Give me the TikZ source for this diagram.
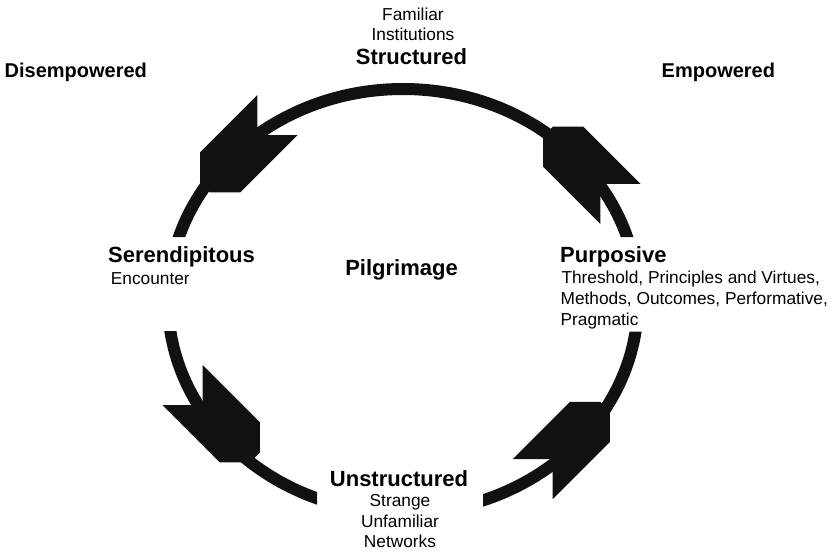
\documentclass[tikz,border=0pt]{standalone}
\usepackage{fontspec}
\setmainfont{Liberation Sans}
\definecolor{inkc}{HTML}{111111}
\begin{document}
\begin{tikzpicture}[x=1pt,y=-1pt,
  ring/.style={draw=inkc, line width=12pt},
  head/.style={font=\fontsize{22}{26}\selectfont\bfseries, inner sep=0pt},
  side/.style={font=\fontsize{20}{24}\selectfont\bfseries, inner sep=0pt},
  note/.style={font=\fontsize{17.3}{20.7}\selectfont, inner sep=0pt},
  chevron/.pic={\fill[inkc] (0,28.3) -- (28.3,0) -- (0,-28.3) -- (81,-28.3)
      -- (102.5,-6.8) -- (102.5,6.8) -- (81,28.3) -- cycle;}]
\useasboundingbox (0,0) rectangle (833,552);

% the cycle ring, broken where the side labels sit
\begin{scope}[even odd rule]
  \clip (0,0) rectangle (833,552)
    (140,237) rectangle (215,331)
    (595,237) rectangle (670,331.7)
    (317,470) rectangle (483,530);
  \draw[ring] (403,301) ellipse [x radius=235, y radius=212];
\end{scope}

% direction heads, running anticlockwise
\pic[rotate=225] (headTL) at (277.5,115) {chevron};
\pic[rotate=135] (headTR) at (620.5,204) {chevron};
\pic[rotate=315] (headBL) at (182.5,385) {chevron};
\pic[rotate=45]  (headBR) at (532.6,479.2) {chevron};

% labels
\node[note, anchor=base] (familiar) at (413,20) {Familiar};
\node[note, anchor=base] (institutions) at (413,40) {Institutions};
\node[head, anchor=base] (structured) at (411.5,64) {Structured};

\node[side, anchor=base west] (disempowered) at (4.5,77) {Disempowered};
\node[side, anchor=base west] (empowered) at (661.5,77) {Empowered};

\node[head, anchor=base west] (serendipitous) at (108,262.3) {Serendipitous};
\node[note, anchor=base west] (encounter) at (110.7,284.3) {Encounter};

\node[head, anchor=base] (pilgrimage) at (401.5,275) {Pilgrimage};

\node[head, anchor=base west] (purposive) at (560,262.3) {Purposive};
\node[note, anchor=base west] (threshold) at (561.3,283.5) {Threshold, Principles and Virtues,};
\node[note, anchor=base west] (methods) at (560.4,304.2) {Methods, Outcomes, Performative,};
\node[note, anchor=base west] (pragmatic) at (560.4,325) {Pragmatic};

\node[head, anchor=base] (unstructured) at (399,486) {Unstructured};
\node[note, anchor=base] (strange) at (400,506.5) {Strange};
\node[note, anchor=base] (unfamiliar) at (400,527) {Unfamiliar};
\node[note, anchor=base] (networks) at (400,547.5) {Networks};
\end{tikzpicture}
\end{document}
